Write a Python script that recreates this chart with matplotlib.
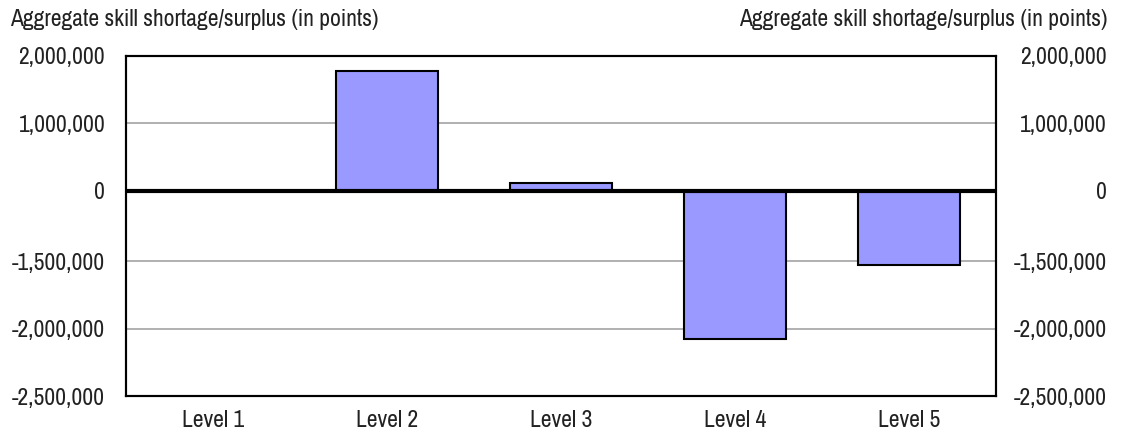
import numpy as np
import matplotlib.pyplot as plt

# data
levels = ["Level 1", "Level 2", "Level 3", "Level 4", "Level 5"]
values = [0, 1773000, 107000, -2197000, -1097000]
tick_pos = [2000000, 1000000, 0, -1050000, -2050000, -3050000]
tick_labels = ["2,000,000", "1,000,000", "0", "-1,500,000", "-2,000,000", "-2,500,000"]
axis_title = "Aggregate skill shortage/surplus (in points)"

plt.rcParams['font.family'] = ['Archivo Narrow', 'DejaVu Sans']
txt = "#222222"
fs = 17

fig = plt.figure(figsize=(11.21, 4.36), dpi=100)
ax = fig.add_axes([0.1124, 0.0917, 0.7761, 0.7799])

x = np.arange(len(levels))
ax.bar(x, values, width=0.59, color="#9999ff", edgecolor="black", linewidth=1.5, zorder=3)

ax.set_xlim(-0.5, len(levels) - 0.5)
ax.set_ylim(tick_pos[-1], tick_pos[0])
ax.set_yticks(tick_pos)
ax.set_yticklabels(tick_labels)
for g in tick_pos[1:-1]:
    if g != 0:
        ax.axhline(g, color="#aaaaaa", linewidth=1.3, zorder=1)
ax.axhline(0, color="black", linewidth=3, zorder=4)

ax.set_xticks(x)
ax.set_xticklabels(levels)
ax.tick_params(axis="both", length=0, labelsize=fs, colors=txt)
ax.tick_params(axis="x", pad=10)
ax.tick_params(axis="y", pad=15)
for s in ax.spines.values():
    s.set_linewidth(1.5)
    s.set_color("black")

ax2 = ax.twinx()
ax2.set_ylim(ax.get_ylim())
ax2.set_yticks(tick_pos)
ax2.set_yticklabels(tick_labels, ha="right")
ax2.tick_params(axis="y", length=0, labelsize=fs, colors=txt, pad=80)
for s in ax2.spines.values():
    s.set_linewidth(1.5)

fig.text(10 / 1121, 1 - 20 / 436, axis_title, ha="left", va="center", fontsize=fs, color=txt)
fig.text(1108 / 1121, 1 - 20 / 436, axis_title, ha="right", va="center", fontsize=fs, color=txt)

fig.savefig("out.png", dpi=100)
